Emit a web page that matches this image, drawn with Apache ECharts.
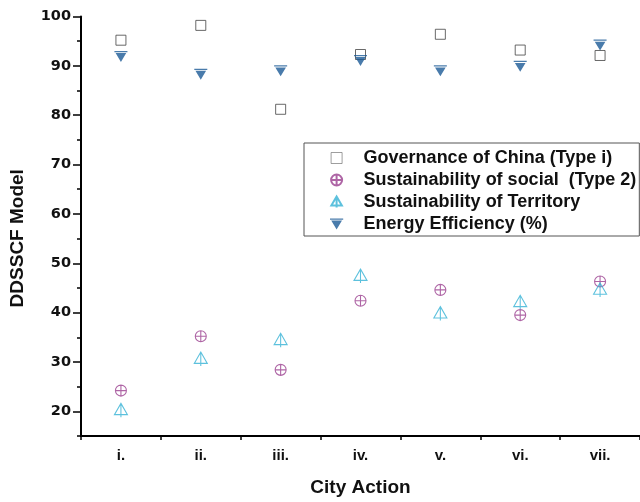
<!DOCTYPE html>
<html>
<head>
<meta charset="utf-8">
<script src="https://cdn.jsdelivr.net/npm/echarts@6/dist/echarts.min.js"></script>
<style>html,body{margin:0;padding:0;background:#fff}#c{width:640px;height:502px}</style>
</head>
<body>
<div id="c"></div>
<script>
var categories = ['i.', 'ii.', 'iii.', 'iv.', 'v.', 'vi.', 'vii.'];
var governance = [95.2, 98.2, 81.2, 92.3, 96.4, 93.2, 92.1];
var social = [24.2, 35.2, 28.4, 42.4, 44.6, 39.5, 46.3];
var territory = [20.4, 30.8, 34.6, 47.6, 40.0, 42.3, 44.8];
var energy = [91.9, 88.3, 89.0, 91.1, 89.0, 89.9, 94.2];
var yTicks = [20, 30, 40, 50, 60, 70, 80, 90, 100];
var seriesNames = ['Governance of China (Type i)', 'Sustainability of social  (Type 2)', 'Sustainability of Territory', 'Energy Efficiency (%)'];

var chart = echarts.init(document.getElementById('c'));
var axisFont = 'Liberation Sans, Arial, sans-serif';
chart.setOption({
  animation: false,
  backgroundColor: '#fff',
  grid: { left: 81, right: 0, top: 16.5, bottom: 60, containLabel: false },
  legend: {
    orient: 'vertical',
    left: 304,
    top: 143,
    padding: [6, 3, 3, 26],
    borderColor: '#555',
    borderWidth: 1,
    itemWidth: 44,
    itemHeight: 11,
    itemGap: 4,
    data: [
      { name: seriesNames[0], itemStyle: { borderColor: '#666', borderWidth: 0.8 } },
      seriesNames[1], seriesNames[2], seriesNames[3]
    ],
    textStyle: { fontFamily: axisFont, fontWeight: 'bold', fontSize: 18, lineHeight: 18, color: '#111' }
  },
  xAxis: [{
    type: 'category',
    data: categories,
    boundaryGap: true,
    axisLine: { lineStyle: { color: '#000', width: 2 } },
    axisTick: { alignWithLabel: true, length: 8, lineStyle: { color: '#000', width: 1.5 } },
    axisLabel: { margin: 12, fontFamily: axisFont, fontWeight: 'bold', fontSize: 15, color: '#111' },
    splitLine: { show: false },
    name: 'City Action',
    nameLocation: 'middle',
    nameGap: 42,
    nameTextStyle: { fontFamily: axisFont, fontWeight: 'bold', fontSize: 19, color: '#111' }
  }, {
    type: 'value',
    min: 0, max: 7, interval: 1,
    position: 'bottom',
    axisLine: { show: false },
    axisTick: { show: true, length: 4, lineStyle: { color: '#000', width: 1.5 } },
    axisLabel: { show: false },
    splitLine: { show: false }
  }],
  yAxis: [{
    type: 'value',
    min: 15, max: 100, interval: 5,
    position: 'left',
    axisLine: { show: true, lineStyle: { color: '#000', width: 2 } },
    axisTick: { show: true, length: 4, lineStyle: { color: '#000', width: 1.5 } },
    axisLabel: { show: false },
    splitLine: { show: false },
    name: 'DDSSCF Model',
    nameLocation: 'middle',
    nameGap: 54,
    nameTextStyle: { fontFamily: axisFont, fontWeight: 'bold', fontSize: 19, color: '#111', padding: [0, 24, 0, 0] }
  }, {
    type: 'value',
    min: 15, max: 100, interval: 5,
    position: 'left',
    axisLine: { show: false },
    axisTick: { show: true, length: 8, customValues: yTicks, lineStyle: { color: '#000', width: 1.5 } },
    axisLabel: { show: true, customValues: yTicks, margin: 10, fontFamily: 'DejaVu Sans', fontWeight: 'bold', fontSize: 14.5, color: '#111' },
    splitLine: { show: false }
  }],
  series: [{
    name: seriesNames[0],
    type: 'scatter',
    data: governance,
    symbol: 'path://M0,0 L20,0 L20,20 L0,20 Z',
    symbolSize: 10,
    itemStyle: { color: '#fff', borderColor: '#444', borderWidth: 1 },
    z: 2
  }, {
    name: seriesNames[1],
    type: 'scatter',
    data: social,
    symbol: 'path://M0,10 A10,10 0 1,1 20,10 A10,10 0 1,1 0,10 Z M10,0 L10,20 M0,10 L20,10',
    symbolSize: 11,
    itemStyle: { color: 'rgba(0,0,0,0)', borderColor: '#9a3f8f', borderWidth: 1.1 },
    z: 3
  }, {
    name: seriesNames[2],
    type: 'scatter',
    data: territory,
    symbol: 'path://M10,0 L20,17 L0,17 Z M10,0 L10,21',
    symbolSize: [13, 14],
    symbolOffset: [0, 1],
    itemStyle: { color: 'rgba(0,0,0,0)', borderColor: '#35b2d4', borderWidth: 1.1 },
    z: 4
  }, {
    name: seriesNames[3],
    type: 'scatter',
    data: energy,
    symbol: 'path://M0,0 L24,0 L24,2.2 L0,2.2 Z M2.2,3.8 L21.8,3.8 L12,20 Z',
    symbolSize: [13, 11],
    itemStyle: { color: '#1b5a96' },
    z: 5
  }]
});
</script>
</body>
</html>
